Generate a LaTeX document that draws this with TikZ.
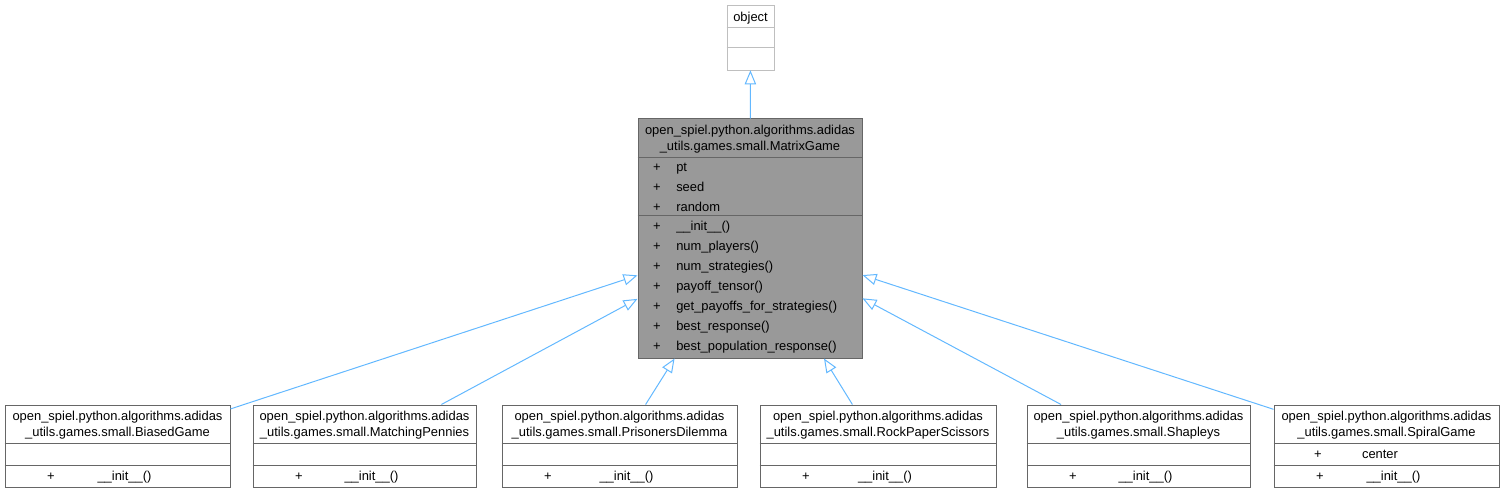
\documentclass[tikz,border=0pt]{standalone}
\usepackage{fontspec}
\setmainfont{Liberation Sans}
\usetikzlibrary{arrows.meta,positioning}
\definecolor{edgeblue}{HTML}{63B8FF}
\definecolor{boxgray}{HTML}{666666}
\definecolor{lightgray}{HTML}{BFBFBF}
\definecolor{mainfill}{HTML}{999999}

\begin{document}
\begin{tikzpicture}[x=0.75pt, y=-0.75pt,
    cls/.style 2 args={rectangle, draw=boxgray, fill=white, inner sep=0pt, minimum width=#1*0.75pt, minimum height=#2*0.75pt},
    txt/.style={font=\fontsize{9.7}{12}\selectfont, inner sep=0pt, align=center},
    row/.style={font=\fontsize{9.7}{12}\selectfont, inner sep=0pt, text height=9pt, text depth=2pt},
    sep/.style={boxgray, line width=0.75pt},
    inh/.style={-{Triangle[open, length=10.5pt, width=8.5pt]}, edgeblue, line width=0.75pt},
]
\useasboundingbox (0,0) rectangle (1504,492);
% base class
\node[cls={47}{65}, draw=lightgray] (obj) at (750.5,37.5) {};
\node[row] (obj-t) at (750.5,17) {object};
\draw[sep, lightgray] (obj.west |- 0,28) -- (obj.east |- 0,28);
\draw[sep, lightgray] (obj.west |- 0,48) -- (obj.east |- 0,48);
% MatrixGame
\node[cls={224}{239}, fill=mainfill, line width=0.75pt] (main) at (750,238.5) {};
\node[txt] (main-t) at (750,139.5) {open\_spiel.python.algorithms.adidas\\\_utils.games.small.MatrixGame};
\draw[sep] (main.west |- 0,157) -- (main.east |- 0,157);
\draw[sep] (main.west |- 0,215) -- (main.east |- 0,215);
\foreach \a [count=\i] in {pt, seed, random} {
  \node[row] (main-ap\i) at (657,{147+20*\i}) {+};
  \node[row, anchor=west] (main-a\i) at (676,{147+20*\i}) {\a};
}
\foreach \m [count=\i] in {\_\_init\_\_(), num\_players(), num\_strategies(), payoff\_tensor(), get\_payoffs\_for\_strategies(), best\_response(), best\_population\_response()} {
  \node[row] (main-mp\i) at (657,{206+20*\i}) {+};
  \node[row, anchor=west] (main-m\i) at (676,{206+20*\i}) {\m};
}
% subclasses
\foreach \n/\cx/\w/\lbl in {b1/117.5/225/BiasedGame, b2/364.5/223/MatchingPennies, b3/619.5/235/PrisonersDilemma, b4/878/236/RockPaperScissors, b5/1138.5/223/Shapleys, b6/1386.5/225/SpiralGame} {
  \node[cls={\w}{82}, line width=0.75pt] (\n) at (\cx,446) {};
  \node[txt] (\n-t) at (\cx,425.5) {open\_spiel.python.algorithms.adidas\\\_utils.games.small.\lbl};
  \draw[sep] (\n.west |- 0,443) -- (\n.east |- 0,443);
  \draw[sep] (\n.west |- 0,465) -- (\n.east |- 0,465);
  \node[row] (\n-p) at ({\cx-\w/2+46},476) {+};
  \node[row] (\n-m) at ({\cx+7},476) {\_\_init\_\_()};
  \draw[inh] (\n) -- (main);
}
\node[row] (b6-ap) at (1318,454) {+};
\node[row] (b6-a) at (1380,454) {center};
\draw[inh] (main) -- (obj);
\end{tikzpicture}
\end{document}
